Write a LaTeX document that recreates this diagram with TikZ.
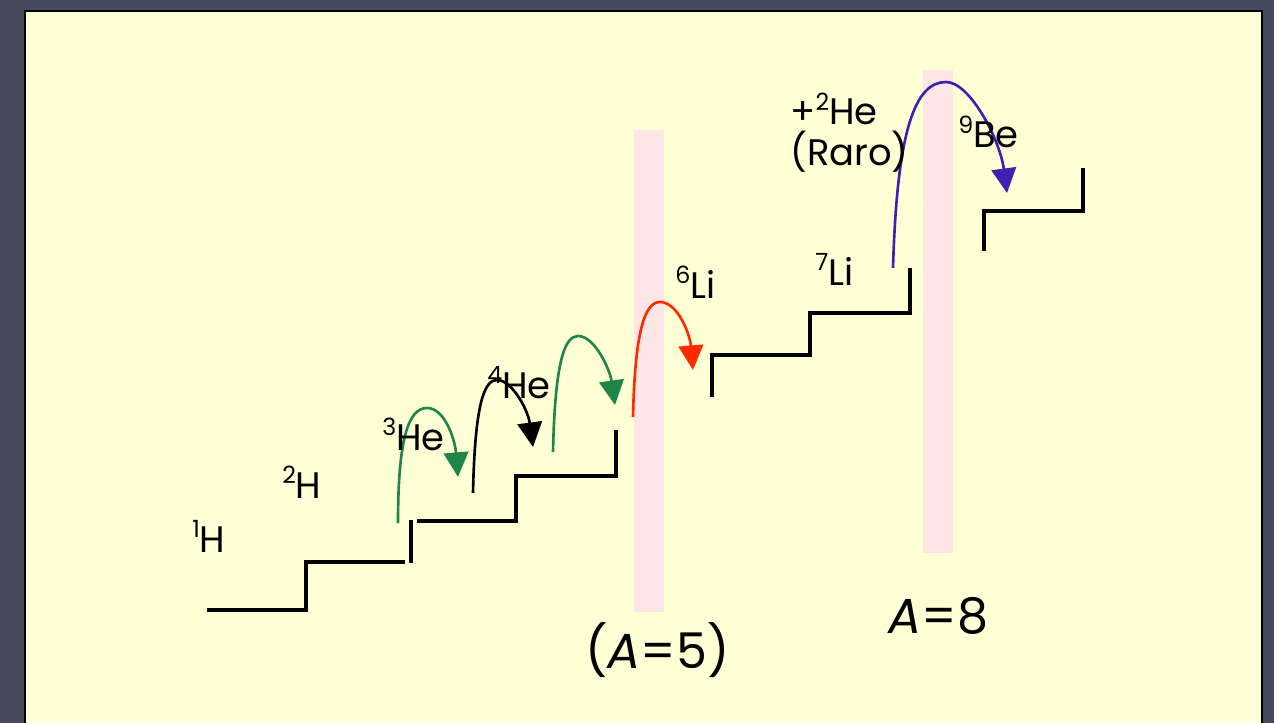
\documentclass[tikz,border=0pt]{standalone}
\usepackage{fontspec}
\setmainfont{Poppins}
\usetikzlibrary{arrows.meta}
\definecolor{bgdark}{HTML}{464A5C}
\definecolor{panel}{HTML}{FFFFD6}
\definecolor{pinkbar}{HTML}{FFE6E6}
\definecolor{arrgreen}{HTML}{1F8548}
\definecolor{arrred}{HTML}{FF2A00}
\definecolor{arrblue}{HTML}{4020B0}
\newcommand\isotope[2]{\raisebox{0.38em}{\fontsize{13.5}{14}\selectfont #1}#2}
\begin{document}
\begin{tikzpicture}[x=0.02cm,y=-0.02cm,
  stair/.style={line width=2pt,black,line cap=butt},
  jump/.style={line width=1.5pt,-{Triangle[length=14pt,width=14pt]}},
  lbl/.style={inner sep=0pt,anchor=base west,font=\fontsize{21}{25}\selectfont},
  biglbl/.style={inner sep=0pt,anchor=base west,font=\fontsize{28}{32}\selectfont}]
\fill[bgdark] (0,0) rectangle (1274,723);
\useasboundingbox (0,0) rectangle (1274,723);
\fill[panel] (25,11) rectangle (1262,740);
\draw[black,line width=1.5pt] (25,740) -- (25,11) -- (1262,11) -- (1262,740);
% pink bars
\fill[pinkbar] (634,130) rectangle (664,612);
\fill[pinkbar] (923,70) rectangle (953,553);
% stairs
\draw[stair] (207,610) -- (306,610) -- (306,562) -- (405,562);
\draw[stair] (411,520) -- (411,563);
\draw[stair] (417,521) -- (516,521) -- (516,476) -- (616,476) -- (616,430);
\draw[stair] (712,397) -- (712,355) -- (810,355) -- (810,313) -- (910,313) -- (910,268);
\draw[stair] (984,251) -- (984,211) -- (1083,211) -- (1083,168);
% arrow endpoints
\coordinate (g1s) at (398,523); \coordinate (g1e) at (458,477);
\coordinate (bks) at (473,493); \coordinate (bke) at (533,447);
\coordinate (g2s) at (553,452); \coordinate (g2e) at (615,405);
\coordinate (rds) at (633,417); \coordinate (rde) at (693,370);
\coordinate (bls) at (893,268); \coordinate (ble) at (1007,193);
\draw[jump,arrgreen] (g1s) .. controls (398,440) and (408,408) .. (427,408) .. controls (445,408) and (455,440) .. (g1e);
\draw[jump,black] (bks) .. controls (475,400) and (485,380) .. (497,380) .. controls (512,380) and (528,410) .. (bke);
\draw[jump,arrgreen] (g2s) .. controls (555,360) and (565,336) .. (578,336) .. controls (595,336) and (610,370) .. (g2e);
\draw[jump,arrred] (rds) .. controls (635,330) and (645,302) .. (660,302) .. controls (678,302) and (690,335) .. (rde);
\draw[jump,arrblue] (bls) .. controls (897,130) and (915,82) .. (946,82) .. controls (970,82) and (1000,140) .. (ble);
% labels
\node[lbl] (h1) at (192,552) {\isotope{1}{H}};
\node[lbl] (h2) at (282,498) {\isotope{2}{H}};
\node[lbl] (he3) at (382,450) {\isotope{3}{He}};
\node[lbl] (he4) at (487,398) {\isotope{4}{He}};
\node[lbl] (li6) at (675,298) {\isotope{6}{Li}};
\node[lbl] (li7) at (815,285) {\isotope{7}{Li}};
\node[lbl] (he2) at (790,125) {+\isotope{2}{He}};
\node[lbl] (raro) at (790,165) {(Raro)};
\node[lbl] (be9) at (958,148) {\isotope{9}{Be}};
\node[biglbl] (a5) at (585,668) {(\textit{A}=5)};
\node[biglbl] (a8) at (888,633) {\textit{A}=8};
\end{tikzpicture}
\end{document}
